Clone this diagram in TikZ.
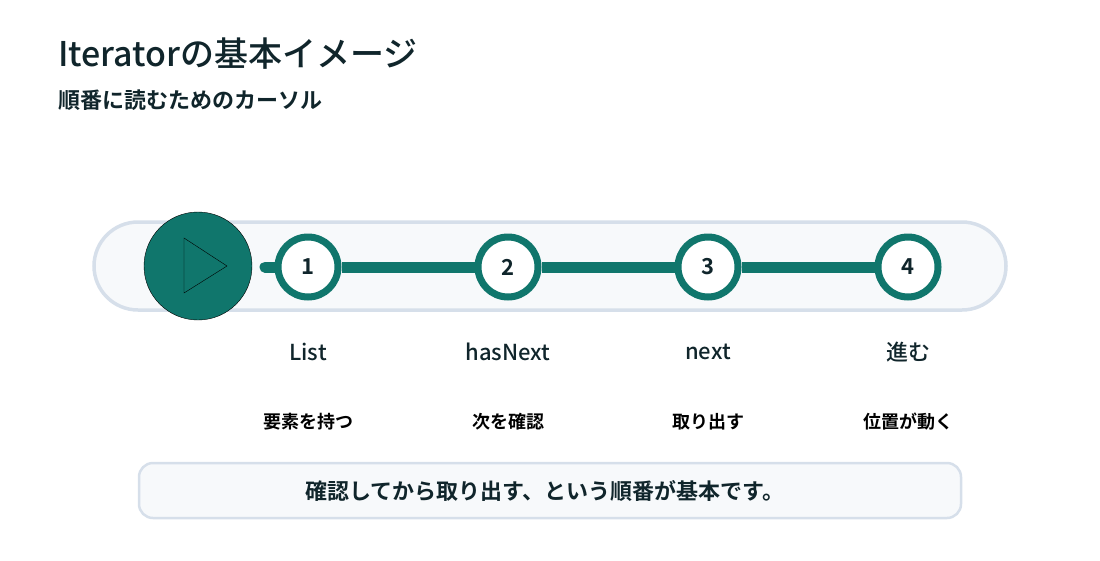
\documentclass[tikz,border=0pt]{standalone}
\usepackage{fontspec}
\setmainfont{Noto Sans CJK JP Medium}[BoldFont={Noto Sans CJK JP Bold}]
\usetikzlibrary{positioning}
\definecolor{teal}{HTML}{10766C}
\definecolor{ink}{HTML}{10252B}
\definecolor{pillfill}{HTML}{F7F9FB}
\definecolor{pillline}{HTML}{D6DFEA}
\tikzset{
  stepdot/.style={circle, draw=teal, line width=7pt, fill=white, minimum size=60pt, inner sep=0pt, font=\fontsize{22}{22}\selectfont\bfseries, text=ink},
  steplabel/.style={font=\fontsize{22}{24}\selectfont, text=ink},
  stepnote/.style={font=\fontsize{18}{20}\selectfont\bfseries, text=black},
}
\begin{document}
\begin{tikzpicture}[x=1pt,y=-1pt]
  \useasboundingbox (0,0) rectangle (1100,560);
  \node[anchor=base west, font=\fontsize{34}{34}\selectfont, text=ink, inner sep=0pt] (title) at (58,66) {Iteratorの基本イメージ};
  \node[anchor=base west, font=\fontsize{22}{22}\selectfont\bfseries, text=ink, inner sep=0pt] (sub) at (58,108) {順番に読むためのカーソル};
  % track
  \draw[pillline, fill=pillfill, line width=3.5pt, rounded corners=44pt] (94,222) rectangle (1006,310);
  \node[stepdot] (s1) at (308,267) {1};
  \node[stepdot] (s2) at (508,267) {2};
  \node[stepdot] (s3) at (708,267) {3};
  \node[stepdot] (s4) at (908,267) {4};
  \coordinate (start) at (265,267);
  \draw[teal, line width=11pt, line cap=round] (start) -- (s1);
  \draw[teal, line width=11pt] (s1) -- (s2) (s2) -- (s3) (s3) -- (s4);
  \node[circle, draw=black, fill=teal, minimum size=108pt, inner sep=0pt] (play) at (198,266) {};
  \draw[black] (184,238) -- (227,266) -- (184,293) -- cycle;
  \foreach \i/\a/\b in {1/List/要素を持つ, 2/hasNext/次を確認, 3/next/取り出す, 4/進む/位置が動く}{
    \node[steplabel, below=85pt of s\i.center, anchor=center] (l\i) {\a};
    \node[stepnote, below=155pt of s\i.center, anchor=center] (n\i) {\b};
  }
  \draw[pillline, fill=pillfill, line width=2.5pt, rounded corners=14pt] (139,463) rectangle (961,518);
  \node[font=\fontsize{22}{22}\selectfont\bfseries, text=ink] (note) at (545,491) {確認してから取り出す、という順番が基本です。};
\end{tikzpicture}
\end{document}
